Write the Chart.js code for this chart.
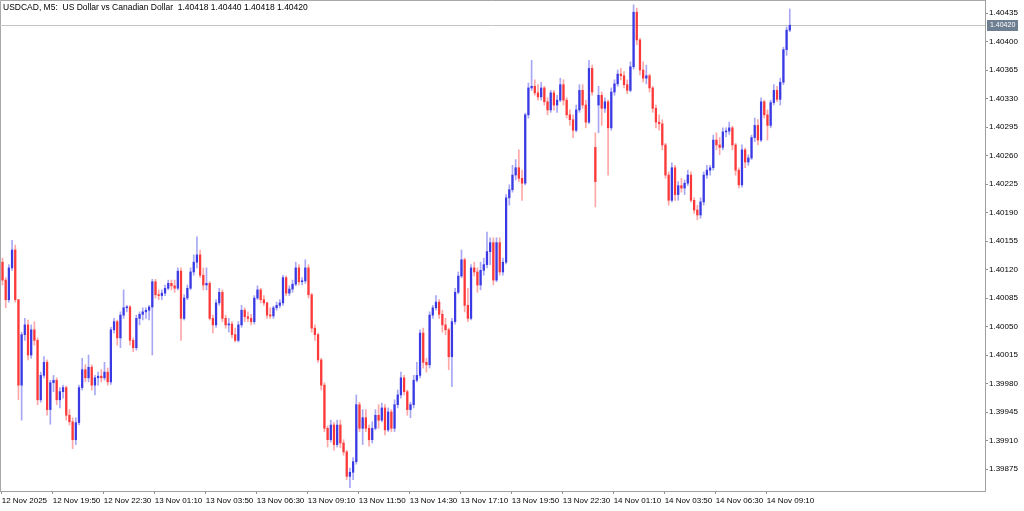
<!DOCTYPE html>
<html>
<head>
<meta charset="utf-8">
<script src="https://cdn.jsdelivr.net/npm/chart.js@4.4.1/dist/chart.umd.min.js"></script>
<style>
  html, body { margin: 0; padding: 0; background: #fff; }
</style>
</head>
<body>
<canvas id="chart" width="1024" height="511"></canvas>
<script>
// USDCAD M5, read off the picture as 10-minute candles
// values are in points (0.00001) above 1.40000
const opens = [
  129,107,83,122,144,83,-22,40,52,15,
  46,33,-40,-10,6,-52,-19,-16,-40,-30,
  -25,-59,-67,-89,-68,-25,-3,-13,0,-22,
  -13,-11,-13,-6,-18,46,56,36,64,73,
  74,33,24,60,65,68,70,74,105,89,
  88,91,97,103,100,97,118,60,85,97,
  117,129,138,113,101,103,60,52,79,92,
  60,52,53,40,33,52,70,62,60,56,
  85,95,83,79,64,63,73,76,79,110,
  91,96,102,122,105,106,122,89,48,40,
  9,-22,-75,-89,-71,-95,-71,-93,-104,-134,
  -129,-116,-46,-75,-62,-75,-89,-75,-59,-65,
  -50,-77,-55,-75,-46,-34,-13,-30,-52,-46,
  -16,-10,42,6,3,64,73,80,65,52,
  46,13,56,92,112,132,76,60,122,117,
  101,119,126,142,153,107,153,117,129,208,
  218,236,245,232,226,310,343,345,337,332,
  343,326,316,337,322,328,347,328,310,304,
  291,316,340,322,301,367,270,322,334,318,
  326,294,338,348,360,358,347,340,369,436,
  402,365,355,358,343,318,301,299,273,236,
  205,245,212,223,220,226,236,205,193,187,
  203,236,242,245,279,273,270,289,290,294,
  273,242,224,267,252,257,282,297,279,326,
  310,297,325,340,329,350,390,414
];
const highs = [
  134,110,126,156,150,83,43,60,58,52,
  56,36,-6,13,9,-16,-10,-13,-25,-22,
  -23,-52,-62,-62,-22,11,3,15,3,-10,
  -6,-3,6,-1,49,60,58,68,95,76,
  76,36,64,68,73,73,76,108,108,95,
  95,101,107,107,107,122,122,89,101,122,
  138,160,144,122,122,105,64,83,97,95,
  64,60,56,48,56,76,73,68,65,88,
  100,97,88,80,73,75,80,83,113,112,
  100,107,129,126,110,132,126,91,52,42,
  11,-19,-72,-65,-68,-65,-65,-89,-102,-124,
  -111,-34,-43,-52,-52,-71,-67,-52,-46,-44,
  -46,-50,-52,-40,-28,-6,-10,-28,-43,-10,
  6,46,48,11,68,76,88,83,70,60,
  48,60,97,117,144,134,97,126,129,122,
  129,134,166,159,159,159,159,134,212,224,
  248,255,267,242,312,349,377,353,347,350,
  345,331,340,340,334,355,353,331,316,310,
  322,347,347,328,377,371,288,345,338,331,
  328,343,353,365,367,363,353,375,445,441,
  404,375,371,360,345,322,310,304,275,240,
  251,248,228,232,230,242,240,208,199,208,
  240,248,248,285,288,282,294,294,301,296,
  275,245,273,269,261,285,306,304,331,328,
  316,328,347,345,355,393,418,440
];
const lows = [
  101,73,80,119,80,-40,-65,33,9,11,
  27,-46,-43,-13,-59,-70,-30,-46,-50,-38,
  -65,-71,-100,-95,-71,-28,-18,-18,-28,-34,
  -22,-18,-16,-22,-21,42,27,24,60,68,
  27,19,21,52,58,60,58,15,85,83,
  83,88,95,95,92,95,33,58,83,95,
  113,122,110,95,95,58,42,49,76,56,
  48,43,36,31,31,49,56,56,52,53,
  83,79,76,60,60,60,70,73,76,88,
  88,92,100,101,101,103,85,43,33,6,
  -28,-79,-98,-92,-102,-98,-99,-108,-138,-148,
  -138,-119,-79,-95,-79,-97,-93,-77,-75,-67,
  -83,-79,-79,-79,-50,-38,-34,-59,-62,-50,
  -18,-13,-1,-6,-1,60,70,60,43,40,
  -3,-24,53,90,110,68,56,58,112,92,
  95,113,122,126,101,105,113,113,127,199,
  215,230,228,205,224,306,340,334,328,328,
  322,310,313,316,313,326,322,306,297,282,
  289,313,318,294,299,334,197,288,297,313,
  236,291,334,345,353,343,336,338,366,396,
  359,350,348,338,313,294,291,267,232,199,
  203,205,205,215,212,223,203,189,181,183,
  199,232,236,242,267,261,267,283,286,267,
  236,220,221,245,248,255,277,273,277,306,
  279,294,322,326,322,347,383,412
];
const closes = [
  107,83,122,144,83,-22,40,52,15,46,
  33,-40,-10,6,-52,-19,-16,-40,-30,-25,
  -59,-67,-89,-68,-25,-3,-13,0,-22,-13,
  -11,-13,-6,-18,46,56,36,64,73,74,
  33,24,60,65,68,70,74,105,89,88,
  91,97,103,100,97,118,60,85,97,117,
  129,138,113,101,103,60,52,79,92,60,
  52,53,40,33,52,70,62,60,56,85,
  95,83,79,64,63,73,76,79,110,91,
  96,102,122,105,106,122,89,48,40,9,
  -22,-75,-89,-71,-95,-71,-93,-104,-134,-129,
  -116,-46,-75,-62,-75,-89,-75,-59,-65,-50,
  -77,-55,-75,-46,-34,-13,-30,-52,-46,-16,
  -10,42,6,3,64,73,80,65,52,46,
  13,56,92,112,132,76,60,122,117,101,
  119,126,142,153,107,153,117,129,208,218,
  236,245,232,226,310,343,345,337,332,343,
  326,316,337,322,328,347,328,310,304,291,
  316,340,322,301,367,338,228,334,318,326,
  294,338,348,360,358,347,340,369,436,402,
  365,355,358,343,318,301,299,273,236,205,
  245,212,223,220,226,236,205,193,187,203,
  236,242,245,279,273,270,289,290,294,273,
  242,224,267,252,257,282,297,279,326,310,
  297,325,340,329,350,390,414,420
];

// time axis: position in 5-minute bars from 12 Nov 17:10
const xTickBars = [0, 32, 64, 96, 128, 160, 192, 224, 256, 288, 320, 352, 384, 416, 448, 480];
const xTickLabels = [
  '12 Nov 2025', '12 Nov 19:50', '12 Nov 22:30', '13 Nov 01:10', '13 Nov 03:50', '13 Nov 06:30',
  '13 Nov 09:10', '13 Nov 11:50', '13 Nov 14:30', '13 Nov 17:10', '13 Nov 19:50', '13 Nov 22:30',
  '14 Nov 01:10', '14 Nov 03:50', '14 Nov 06:30', '14 Nov 09:10'
];
const yTickLabels = [
  '1.39875', '1.39910', '1.39945', '1.39980', '1.40015', '1.40050', '1.40085', '1.40120', '1.40155',
  '1.40190', '1.40225', '1.40260', '1.40295', '1.40330', '1.40365', '1.40400', '1.40435'
];
const lastPrice = '1.40420';
const titleText = 'USDCAD, M5:  US Dollar vs Canadian Dollar  1.40418 1.40440 1.40418 1.40420';

const toPrice = p => 1.4 + p / 100000;
const candleX = opens.map((_, i) => i * 2 + 0.5); // a candle covers two 5-minute bars
const up = closes.map((c, i) => c >= opens[i]);

const wickData = highs.map((h, i) => ({ x: candleX[i], y: [toPrice(lows[i]), toPrice(h)] }));
const bodyData = opens.map((o, i) => ({ x: candleX[i], y: [toPrice(o), toPrice(closes[i])] }));

const axisFont = { family: 'Liberation Sans', size: 8 };

// no label padding: the plot runs right to the top edge like the terminal window
const noPadding = axis => {
  axis.paddingTop = 0;
  axis.paddingBottom = 0;
  axis.paddingLeft = 0;
  axis.paddingRight = 0;
};

// frame, last price line, title and price tag
const overlay = {
  id: 'overlay',
  beforeDatasetsDraw(chart) {
    const { ctx, chartArea: a, scales: { y } } = chart;
    ctx.save();
    ctx.lineWidth = 1;
    ctx.strokeStyle = '#a8a8a8';
    ctx.beginPath();
    ctx.moveTo(a.left + 0.5, a.bottom);
    ctx.lineTo(a.left + 0.5, a.top + 0.5);
    ctx.lineTo(a.right, a.top + 0.5);
    ctx.stroke();
    const py = Math.round(y.getPixelForValue(parseFloat(lastPrice))) + 0.5;
    ctx.strokeStyle = '#c4c4c8';
    ctx.beginPath();
    ctx.moveTo(a.left, py);
    ctx.lineTo(a.right, py);
    ctx.stroke();
    ctx.restore();
  },
  afterDraw(chart) {
    const { ctx, chartArea: a, scales: { y } } = chart;
    ctx.save();
    ctx.font = '8.5px "Liberation Sans"';
    ctx.fillStyle = '#000';
    ctx.textBaseline = 'middle';
    ctx.textAlign = 'left';
    ctx.fillText(titleText, 3, 8);

    const py = Math.round(y.getPixelForValue(parseFloat(lastPrice)));
    ctx.fillStyle = '#6f7f92';
    ctx.fillRect(a.right + 2, py - 5, 31, 11);
    ctx.fillStyle = '#fff';
    ctx.font = '7px "Liberation Sans"';
    ctx.fillText(lastPrice, a.right + 5, py + 0.5);
    ctx.restore();
  }
};

const ctx = document.getElementById('chart').getContext('2d');
new Chart(ctx, {
  type: 'bar',
  data: {
    datasets: [
      {
        data: wickData,
        backgroundColor: up.map(u => u ? 'rgba(60,60,235,0.45)' : 'rgba(255,60,60,0.45)'),
        barThickness: 1,
        grouped: false,
        order: 2
      },
      {
        data: bodyData,
        backgroundColor: up.map(u => u ? '#3a3ae4' : '#fc3838'),
        barThickness: 1.6,
        minBarLength: 1,
        grouped: false,
        order: 1
      }
    ]
  },
  options: {
    responsive: false,
    animation: false,
    layout: { padding: 0 },
    plugins: {
      legend: { display: false },
      tooltip: { enabled: false }
    },
    scales: {
      x: {
        type: 'linear',
        offset: false,
        min: -1.07,
        max: 617,
        afterBuildTicks: axis => { axis.ticks = xTickBars.map(v => ({ value: v })); },
        afterFit: axis => { axis.height = 20; noPadding(axis); },
        grid: { drawOnChartArea: false, offset: false, tickLength: 3, color: '#909090' },
        border: { color: '#a0a0a0' },
        ticks: {
          align: 'start',
          autoSkip: false,
          maxRotation: 0,
          padding: 2,
          color: '#000',
          font: axisFont,
          callback: (v, i) => xTickLabels[i]
        }
      },
      y: {
        position: 'right',
        min: 1.39848,
        max: 1.40451,
        afterBuildTicks: axis => { axis.ticks = yTickLabels.map(t => ({ value: parseFloat(t) })); },
        afterFit: axis => { axis.width = 39; noPadding(axis); },
        grid: { drawOnChartArea: false, tickLength: 3, color: '#909090' },
        border: { color: '#a0a0a0' },
        ticks: {
          padding: 1,
          color: '#000',
          font: axisFont,
          callback: (v, i) => yTickLabels[i]
        }
      }
    }
  },
  plugins: [overlay]
});
</script>
</body>
</html>
